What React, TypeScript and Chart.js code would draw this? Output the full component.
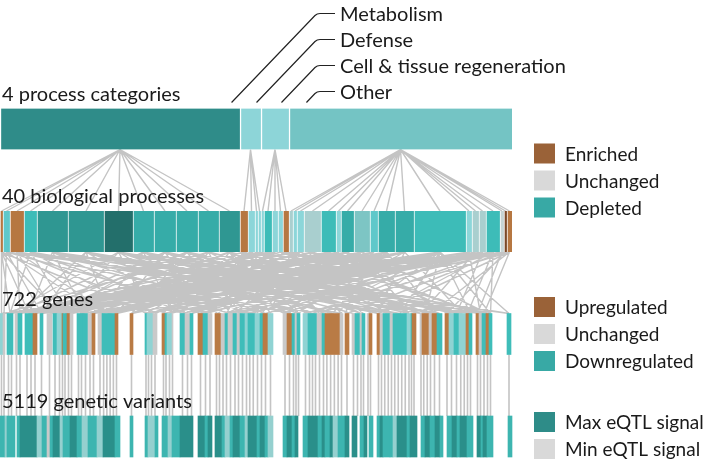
import React, { useEffect, useRef } from "react";
import { Chart, registerables } from "chart.js";

Chart.register(...registerables);

// ---------------- DATA ----------------
const rowLabels = ["4 process categories", "40 biological processes", "722 genes", "5119 genetic variants"];

const categoryNames = ["Metabolism", "Defense", "Cell & tissue regeneration", "Other"];
const categoryColors = ["#2f8c89", "#8dd5d8", "#8dd5d8", "#74c4c4"];

// relative widths of the 40 biological processes (left to right)
const processWidths = [3, 7, 14, 13, 31, 36, 29, 21, 22, 22, 21, 21, 8, 7, 3, 3, 3, 8, 6, 5, 6, 4, 4, 7, 17, 15, 5, 13, 16, 8, 17, 19, 52, 6, 7, 7, 14, 4, 3, 5];
// category each process belongs to
const processCategory = [0, 0, 0, 0, 0, 0, 0, 0, 0, 0, 0, 0, 1, 1, 1, 1, 2, 2, 2, 2, 2, 3, 3, 3, 3, 3, 3, 3, 3, 3, 3, 3, 3, 3, 3, 3, 3, 3, 3, 3];
// enrichment shade of each process
const processShades = ["b", "c", "b", "t3", "t1", "t1", "d", "t2", "t2", "t2", "t2", "t1", "b", "l", "l", "l", "l", "t3", "l", "l", "b", "g", "l", "l", "g", "t3", "l", "t2", "m", "c", "t2", "t2", "t3", "l", "g", "g", "t3", "G", "B", "b"];

// genes: run-length codes (class + relative width); "." = no gene
const geneRuns = [
  "L3 G2 .2 T6 .2 G3 T4 .3 T8 B4 .3 T3 .4 G5 .1 T4 L5 B1 T4 B3 G3 .4 T6 T5 G4 B3 .3 G4 T13 B3 .12",
  "B3 .12 T2 L6 G4 .5 B3 T2 L5 G1 .7 T5 G5 T3 .5 B5 T5 G4 .3 B6 G4 T3 G5 T4 G3 T5 L3 T7 L5",
  "T3 B5 L5 .10 G4 B5 T3 G2 T3 .3 L5 T9 G5 T3 B15 G3 .2 B4 .3 G3 T5 G2 T3 .2 G2 B3 .5 B3 G3 T7",
  "G3 T14 L4 T1 B4 .4 G2 B7 G3 B5 T5 .3 B4 L5 T5 L7 B3 T3 .4 B3 G3 T4 B3 T3 .15 T4",
];
// genetic variants: run-length codes (signal class + relative width)
const variantRuns = [
  "T5 L2 T8 .2 T3 D17 L5 T5 G3 T3 D7 L3 T7 D7 T5 L6 T9 L6 D12 T5 .10",
  "T3 .12 T3 L7 T3 .4 T6 L4 T8 D13 .5 D7 T3 D4 .3 D7 T3 L5 T3 D7 T5 L3 D9 T3",
  "D5 T3 L5 .10 T4 D5 T3 D3 .5 T5 D10 T4 D3 T5 D3 L5 T7 D4 .3 D5 .3 T4 D3 .2 T4 .4 T3 D3 T7",
  "T3 L4 D10 T3 D7 .4 T4 D5 T5 D5 T3 .4 T5 D5 T3 D7 T6 .4 D4 T2 D4 T6 .15 T4",
];

// gene positions linked to each process
const processGeneTargets = [
  [8, 25, 60, 150, 2], [3, 40, 98, 230, 480], [20, 55, 110, 165, 290, 440], [10, 70, 145, 200, 340, 395],
  [30, 85, 180, 250, 310, 400, 470, 505], [45, 105, 190, 265, 330, 420, 460, 20, 375], [65, 150, 220, 300, 355, 440, 485, 10, 510],
  [15, 100, 175, 245, 335, 410, 455, 280], [35, 120, 205, 290, 380, 470, 60, 430], [50, 135, 230, 315, 395, 490, 25, 360],
  [75, 160, 240, 325, 430, 5, 465], [90, 185, 270, 360, 450, 40, 300], [28, 200, 305, 420], [115, 260, 345, 80], [140, 285, 395],
  [80, 228, 350], [170, 298, 60], [60, 210, 320, 405], [125, 255, 15], [95, 340, 440], [215, 365, 110], [48, 275, 480], [155, 385, 30],
  [105, 235, 425, 70], [22, 130, 262, 370, 478, 8], [40, 165, 290, 390, 455, 98], [195, 350, 20],
  [12, 110, 225, 340, 445, 180, 55], [58, 178, 280, 410, 488, 35], [145, 300, 75, 15], [30, 120, 238, 330, 435, 200, 88],
  [70, 190, 295, 375, 465, 140, 10], [5, 45, 88, 130, 168, 205, 250, 285, 320, 358, 400, 425, 470, 492, 510, 25, 65, 150, 2, 112, 185, 225],
  [100, 310, 480, 50], [160, 420, 240], [55, 265, 455, 200], [18, 140, 245, 380, 468, 490, 320, 95], [350, 475, 100], [230, 448, 160], [82, 305, 430, 485, 380, 40],
];

const legendGroups = [
  [["Enriched", "#9a6238"], ["Unchanged", "#d9d9d9"], ["Depleted", "#38a9a5"]],
  [["Upregulated", "#9a6238"], ["Unchanged", "#d9d9d9"], ["Downregulated", "#38a9a5"]],
  [["Max eQTL signal", "#2e8c88"], ["Min eQTL signal", "#d9d9d9"]],
];

// ---------------- STYLES ----------------
const FONT = "Lato";
const shadeColors: Record<string, string> = {
  b: "#b67741", B: "#7b4a29", c: "#5fc8ca", l: "#8cd6d9", g: "#a9cfcf", m: "#7dc5c4", G: "#c6d4d4",
  t1: "#2f9792", t2: "#36aca8", t3: "#3dbcb8", d: "#236f6b",
};
const geneColors: Record<string, string> = { T: "#3fbdb9", L: "#90d3d3", B: "#b97b45", G: "#c9c9c9" };
const variantColors: Record<string, string> = { D: "#2a8f8a", T: "#3db5b0", L: "#95d0cf", G: "#c9c9c9" };
const LINK_COLOR = "#c4c4c4";
const HALF = 0.2; // half bar height in row units

function parseRuns(codes: string[]) {
  const out: { cls: string; start: number; end: number }[] = [];
  let pos = 0;
  codes.join(" ").trim().split(/\s+/).forEach((tok) => {
    const cls = tok[0];
    const w = parseFloat(tok.slice(1));
    if (cls !== ".") out.push({ cls, start: pos, end: pos + w });
    pos += w;
  });
  return out;
}

function buildConfig() {
  const procSegs: { start: number; end: number }[] = [];
  let p = 0;
  processWidths.forEach((w) => { procSegs.push({ start: p, end: p + w }); p += w; });
  const procCenter = procSegs.map((s) => (s.start + s.end) / 2);
  const catSegs = categoryNames.map((_, ci) => {
    const idx = processCategory.map((c, i) => (c === ci ? i : -1)).filter((i) => i >= 0);
    return { start: procSegs[idx[0]].start, end: procSegs[idx[idx.length - 1]].end, idx };
  });
  const genes = parseRuns(geneRuns);
  const variants = parseRuns(variantRuns);
  const geneCenters = genes.map((g) => (g.start + g.end) / 2);
  const snap = (x: number) => geneCenters.reduce((a, b) => (Math.abs(b - x) < Math.abs(a - x) ? b : a), geneCenters[0]);

  const links: any[] = [];
  const seg = (x1: number, y1: number, x2: number, y2: number) => {
    links.push({ x: x1, y: y1 }, { x: x2, y: y2 }, { x: x2, y: null });
  };
  catSegs.forEach((c) => {
    const cx = (c.start + c.end) / 2;
    c.idx.forEach((i) => seg(cx, 0 + HALF, procCenter[i], 1 - HALF));
  });
  processGeneTargets.forEach((targets, i) => {
    targets.forEach((t) => seg(procCenter[i], 1 + HALF, snap(t), 2 - HALF));
  });
  const verticals: any[] = [];
  genes.forEach((g) => {
    const w = g.end - g.start;
    const n = Math.max(1, Math.round(w / 3.5));
    for (let k = 0; k < n; k++) {
      const x = g.start + (w * (k + 0.5)) / n;
      verticals.push({ x, y: 2 + HALF }, { x, y: 3 - HALF }, { x, y: null });
    }
  });

  const datasets: any[] = [
    {
      label: "categories",
      data: catSegs.map((c) => ({ x: [c.start, c.end], y: 0 })),
      backgroundColor: categoryColors,
      borderColor: "#ffffff",
      borderWidth: { left: 1.5, right: 0, top: 0, bottom: 0 },
    },
    {
      label: "processes",
      data: procSegs.map((s) => ({ x: [s.start, s.end], y: 1 })),
      backgroundColor: processShades.map((s) => shadeColors[s]),
      borderColor: "#ffffff",
      borderWidth: { left: 1, right: 0, top: 0, bottom: 0 },
    },
    {
      label: "genes",
      data: genes.map((g) => ({ x: [g.start, g.end], y: 2 })),
      backgroundColor: genes.map((g) => geneColors[g.cls]),
      borderWidth: 0,
    },
    {
      label: "variants",
      data: variants.map((g) => ({ x: [g.start, g.end], y: 3 })),
      backgroundColor: variants.map((g) => variantColors[g.cls]),
      borderWidth: 0,
    },
    {
      type: "line",
      label: "links",
      data: links,
      borderColor: LINK_COLOR,
      borderWidth: 1.4,
      pointRadius: 0,
      spanGaps: false,
      tension: 0,
      fill: false,
    },
    {
      type: "line",
      label: "gene-variant",
      data: verticals,
      borderColor: LINK_COLOR,
      borderWidth: 1.6,
      pointRadius: 0,
      spanGaps: false,
      tension: 0,
      fill: false,
    },
  ];
  datasets.slice(0, 4).forEach((d) => {
    d.type = "bar";
    d.barThickness = 41;
    d.grouped = false;
    d.borderSkipped = false;
  });
  return datasets;
}

const overlay = {
  id: "overlay",
  afterDatasetsDraw(chart: any) {
    const ctx = chart.ctx as CanvasRenderingContext2D;
    const ys = chart.scales.y;
    ctx.save();
    ctx.fillStyle = "#1a1a1a";
    ctx.font = `20px ${FONT}`;
    ctx.textBaseline = "alphabetic";
    ctx.textAlign = "left";
    rowLabels.forEach((t, i) => {
      const top = ys.getPixelForValue(i) - 20.5;
      ctx.fillText(t, 2, top - 8);
    });
    const rowTop = ys.getPixelForValue(0) - 20.5;
    const bottom = rowTop - 6;
    ctx.strokeStyle = "#222";
    ctx.lineWidth = 1.2;
    ctx.textBaseline = "middle";
    categoryNames.forEach((name, i) => {
      const yc = 13.5 + i * 26;
      const elbowX = 317;
      const d = bottom - yc;
      ctx.beginPath();
      ctx.moveTo(335, yc);
      ctx.lineTo(elbowX + 3, yc);
      ctx.quadraticCurveTo(elbowX, yc, elbowX - 2, yc + 2);
      ctx.lineTo(elbowX - d * 0.96, bottom);
      ctx.stroke();
      ctx.fillText(name, 340, yc + 1);
    });
    ctx.font = `19px ${FONT}`;
    const groupStarts = [153.5, 307, 422];
    groupStarts.forEach((y0, gi) => {
      legendGroups[gi].forEach(([label, color], k) => {
        const cy = y0 + k * 27;
        ctx.fillStyle = color;
        ctx.fillRect(534, cy - 10, 21, 20);
        ctx.fillStyle = "#1a1a1a";
        ctx.fillText(label, 565, cy + 1);
      });
    });
    ctx.restore();
  },
};

export default function App() {
  const ref = useRef<HTMLCanvasElement | null>(null);
  useEffect(() => {
    if (!ref.current) return;
    const yMin = -129 / 102.5;
    const chart = new Chart(ref.current, {
      type: "bar",
      data: { datasets: buildConfig() },
      options: {
        responsive: false,
        animation: false,
        indexAxis: "y",
        events: [],
        layout: { padding: 0 },
        scales: {
          x: { type: "linear", min: 0, max: 709, display: false, offset: false },
          y: { type: "linear", reverse: true, min: yMin, max: yMin + 461 / 102.5, display: false, offset: false },
        },
        plugins: { legend: { display: false }, tooltip: { enabled: false } },
      } as any,
      plugins: [overlay],
    } as any);
    return () => chart.destroy();
  }, []);
  return (
    <div style={{ position: "absolute", left: 0, top: 0, width: 709, height: 461, background: "#fff" }}>
      <canvas ref={ref} width={709} height={461} style={{ display: "block" }} />
    </div>
  );
}
